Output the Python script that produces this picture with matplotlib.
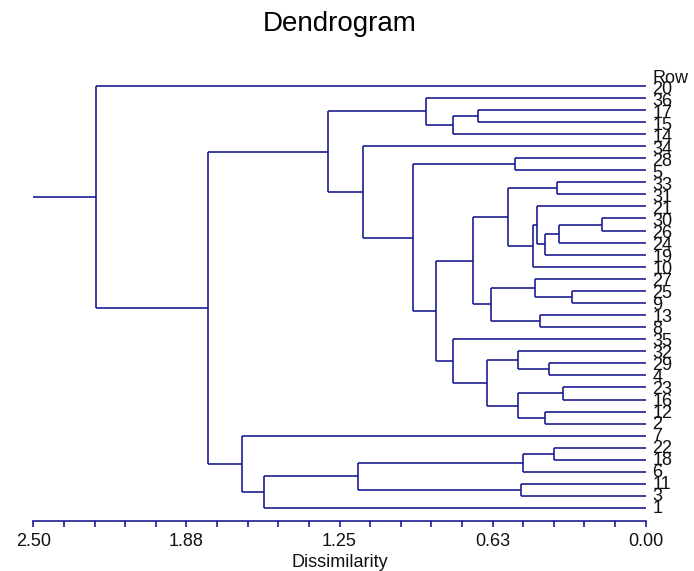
import matplotlib
matplotlib.use("Agg")
import matplotlib.pyplot as plt
from matplotlib.ticker import MultipleLocator, FixedLocator, FixedFormatter
from matplotlib.transforms import blended_transform_factory

plt.rcParams['font.family'] = ['Liberation Sans', 'DejaVu Sans']

# ---- data: agglomerative merges (upper child, lower child, dissimilarity) ----
merge_upper = ['17', 'm0', '36', '28', '33', '30', 'm5', 'm6', '21', 'm8', 'm4',
               '25', '27', '13', 'm12', 'm10', '29', '32', '23', '12', 'm18',
               'm17', '35', 'm15', 'm3', '34', 'm2', '22', 'm27', '11', 'm28',
               'm30', '7', 'm26', '20']
merge_lower = ['15', '14', 'm1', '5', '31', '26', '24', '19', 'm7', '10', 'm9',
               '9', 'm11', '8', 'm13', 'm14', '4', 'm16', '16', '2', 'm19',
               'm20', 'm21', 'm22', 'm23', 'm24', 'm25', '18', '6', '3', 'm29',
               '1', 'm31', 'm32', 'm33']
merge_height = [0.683, 0.785, 0.897, 0.534, 0.361, 0.180, 0.354, 0.411, 0.445,
                0.459, 0.563, 0.302, 0.452, 0.431, 0.633, 0.704, 0.395, 0.523,
                0.336, 0.411, 0.523, 0.647, 0.785, 0.857, 0.949, 1.153, 1.298,
                0.374, 0.500, 0.510, 1.176, 1.557, 1.647, 1.786, 2.245]

header_label = 'Row'
x_ticks_major = [2.50, 1.875, 1.25, 0.625, 0.00]
x_tick_labels = ['2.50', '1.88', '1.25', '0.63', '0.00']
title = 'Dendrogram'
x_label = 'Dissimilarity'

# ---- build tree ----
nodes = {}
for i, (a, b, h) in enumerate(zip(merge_upper, merge_lower, merge_height)):
    nodes['m%d' % i] = (a, b, h)
root = 'm%d' % (len(merge_height) - 1)

leaf_order = []
def collect(n):
    if n in nodes:
        a, b, _ = nodes[n]
        collect(a)
        collect(b)
    else:
        leaf_order.append(n)
collect(root)

ypos = {lab: i for i, lab in enumerate(leaf_order)}
hgt = {lab: 0.0 for lab in leaf_order}
def place(n):
    if n in ypos:
        return ypos[n]
    a, b, h = nodes[n]
    ya, yb = place(a), place(b)
    ypos[n] = (ya + yb) / 2.0
    hgt[n] = h
    return ypos[n]
place(root)

# ---- figure ----
W, H = 694, 571
fig = plt.figure(figsize=(W / 100, H / 100), dpi=100)
ax_left, ax_right = 33.3 / W, 645.7 / W
ax_top_px, ax_bot_px = 60.0, 521.0
ax = fig.add_axes([ax_left, 1 - ax_bot_px / H, ax_right - ax_left,
                   (ax_bot_px - ax_top_px) / H])

line_col = '#1c1c96'
lw = 1.2
y0_px, dy_px = 85.7, 12.07
ax.set_ylim((ax_bot_px - y0_px) / dy_px, (ax_top_px - y0_px) / dy_px)
ax.set_xlim(2.5, 0.0)

for n, (a, b, h) in nodes.items():
    ya, yb = ypos[a], ypos[b]
    ax.plot([h, h], [ya, yb], color=line_col, lw=lw, solid_capstyle='butt')
    ax.plot([h, hgt[a]], [ya, ya], color=line_col, lw=lw, solid_capstyle='butt')
    ax.plot([h, hgt[b]], [yb, yb], color=line_col, lw=lw, solid_capstyle='butt')
# root stem
ax.plot([2.5, hgt[root]], [ypos[root], ypos[root]], color=line_col, lw=lw,
        solid_capstyle='butt')

# leaf labels
tr = blended_transform_factory(ax.transAxes, ax.transData)
lab_x = 1.0 + 6.5 / (645.7 - 33.3)
ax.text(lab_x, -0.62, header_label, transform=tr, ha='left', va='center',
        fontsize=13, color='#111111', clip_on=False)
for i, lab in enumerate(leaf_order):
    ax.text(lab_x, i + 0.35 - 0.3 * i / 35, lab, transform=tr, ha='left',
            va='center', fontsize=13, color='#111111', clip_on=False)

# axes styling
for s in ['top', 'right', 'left']:
    ax.spines[s].set_visible(False)
ax.spines['bottom'].set_color(line_col)
ax.spines['bottom'].set_linewidth(1.2)
ax.set_yticks([])
ax.xaxis.set_major_locator(FixedLocator(x_ticks_major))
ax.xaxis.set_major_formatter(FixedFormatter(x_tick_labels))
ax.xaxis.set_minor_locator(MultipleLocator(0.125))
ax.tick_params(axis='x', which='both', direction='out', length=4.5, width=1.2,
               color=line_col, labelsize=13, labelcolor='#111111', pad=4)
ax.set_xlabel(x_label, fontsize=13, color='#111111', labelpad=3)

fig.text((ax_left + ax_right) / 2, 1 - 24 / H, title, ha='center', va='center',
         fontsize=20, color='black')

fig.savefig('out.png', dpi=100)
